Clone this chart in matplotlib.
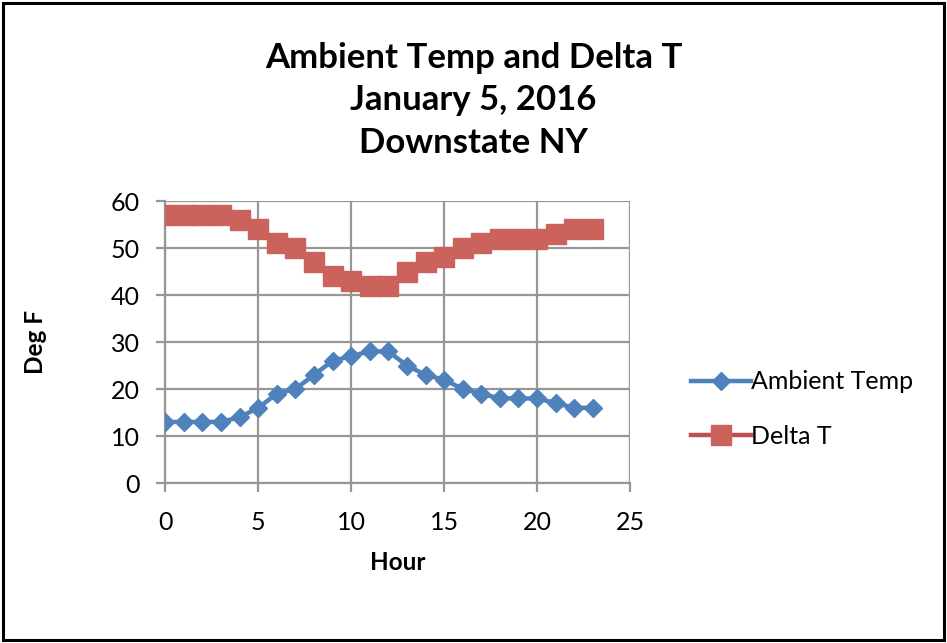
import matplotlib
matplotlib.use("Agg")
import matplotlib.pyplot as plt
from matplotlib.patches import Rectangle

plt.rcParams['font.family'] = ['Lato', 'DejaVu Sans']

hours = list(range(24))
ambient_temp = [13, 13, 13, 13, 14, 16, 19, 20, 23, 26, 27, 28,
                28, 25, 23, 22, 20, 19, 18, 18, 18, 17, 16, 16]
delta_t = [57, 57, 57, 57, 56, 54, 51, 50, 47, 44, 43, 42,
           42, 45, 47, 48, 50, 51, 52, 52, 52, 53, 54, 54]
x_ticks = [0, 5, 10, 15, 20, 25]
y_ticks = [0, 10, 20, 30, 40, 50, 60]
title_lines = ["Ambient Temp and Delta T", "January 5, 2016", "Downstate NY"]

blue = "#4F81BD"
red = "#C0504D"
grid_gray = "#979797"

fig = plt.figure(figsize=(9.47, 6.43), dpi=100)
fig.patches.append(Rectangle((0.003, 0.004), 0.994, 0.992, transform=fig.transFigure,
                             fill=False, edgecolor="black", linewidth=2.2))

ax = fig.add_axes([0.1745, 0.2488, 0.4908, 0.4386])

ax.plot(hours, ambient_temp, color=blue, linewidth=3.2, marker="D",
        markersize=9.5, markerfacecolor=blue, markeredgecolor=blue,
        label="Ambient Temp", zorder=3)
ax.plot(hours, delta_t, color=red, linewidth=3.2, marker="s",
        markersize=14.5, markerfacecolor="#CB625C", markeredgecolor="#CB625C",
        label="Delta T", zorder=3)

ax.set_xlim(0, 25)
ax.set_ylim(0, 60)
ax.set_xticks(x_ticks)
ax.set_yticks(y_ticks)
ax.grid(True, color=grid_gray, linewidth=1.6)
ax.set_axisbelow(True)
for side in ["top", "right"]:
    ax.spines[side].set_visible(False)
for side in ["left", "bottom"]:
    ax.spines[side].set_color(grid_gray)
    ax.spines[side].set_linewidth(1.6)
ax.tick_params(axis="both", direction="out", length=6.5, width=1.6,
               color=grid_gray, labelsize=18, pad=12)
ax.tick_params(axis="x", pad=14)

ax.set_xlabel("Hour", fontsize=17.5, fontweight="bold", labelpad=12)
ax.set_ylabel("Deg F", fontsize=17.5, fontweight="bold", labelpad=46)

fig.text(0.5, 0.935, "\n".join(title_lines), ha="center", va="top",
         fontsize=25, fontweight="bold", linespacing=1.41)

fig.legend(loc="center left", bbox_to_anchor=(0.706, 0.364), frameon=False,
           fontsize=18, handlelength=2.4, handletextpad=0.0,
           labelspacing=1.25)

fig.savefig("out.png", dpi=100)
